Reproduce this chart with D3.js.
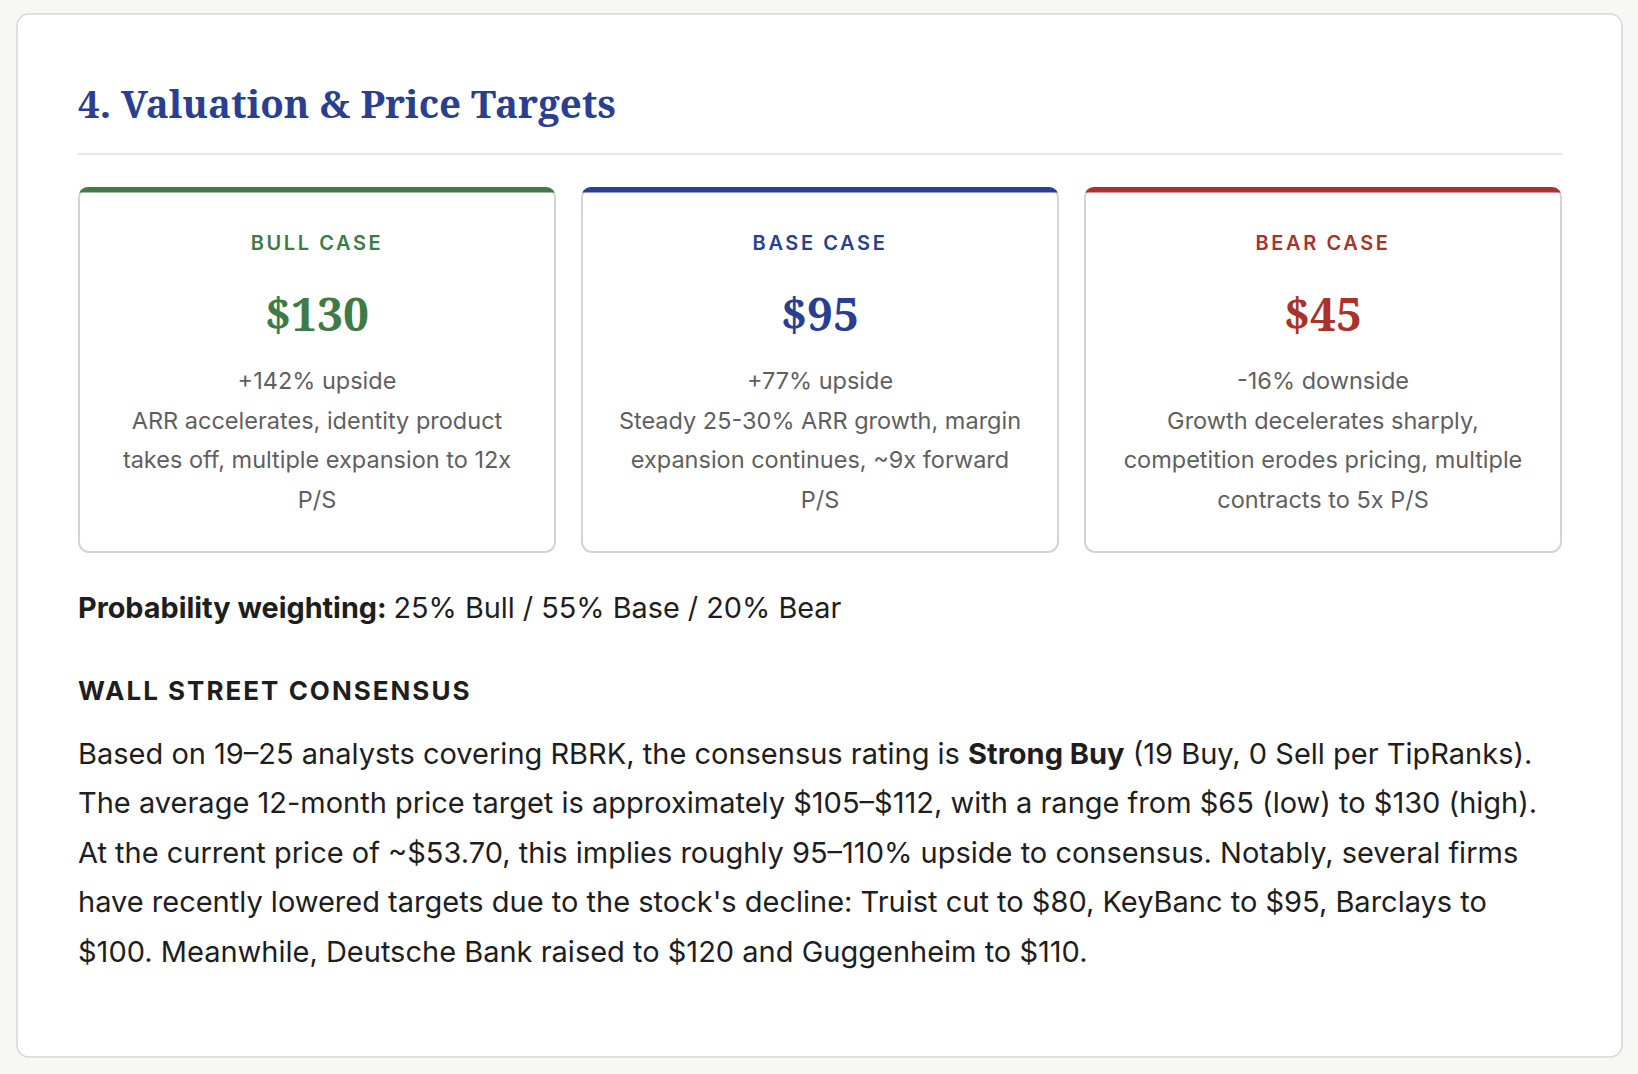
<!DOCTYPE html>
<html>
<head>
<meta charset="utf-8">
<script src="https://cdn.jsdelivr.net/npm/d3@7"></script>
<style>
  html, body { margin: 0; background: #f7f7f5; }
  svg { display: block; }
  .sans { font-family: Inter, "Noto Sans", sans-serif; }
  .serif { font-family: "Noto Serif", "DejaVu Serif", serif; }
</style>
</head>
<body>
<svg id="page" width="1638" height="1074"></svg>
<script>
// Scenario data
const cases = ['BULL CASE', 'BASE CASE', 'BEAR CASE'];
const targets = [130, 95, 45];
const moves = ['+142% upside', '+77% upside', '-16% downside'];
const theses = [
  ['ARR accelerates, identity product', 'takes off, multiple expansion to 12x', 'P/S'],
  ['Steady 25-30% ARR growth, margin', 'expansion continues, ~9x forward', 'P/S'],
  ['Growth decelerates sharply,', 'competition erodes pricing, multiple', 'contracts to 5x P/S']
];
const caseColors = ['#3e7b46', '#2a3f8f', '#a9332a'];

// Probability weighting
const weightNames = ['Bull', 'Base', 'Bear'];
const weights = [25, 55, 20];

// Consensus paragraph, one entry per line; {b:...} marks bold runs
const consensus = [
  ['Based on 19\u201325 analysts covering RBRK, the consensus rating is ', {b: 'Strong Buy'}, ' (19 Buy, 0 Sell per TipRanks).'],
  ['The average 12-month price target is approximately $105\u2013$112, with a range from $65 (low) to $130 (high).'],
  ['At the current price of ~$53.70, this implies roughly 95\u2013110% upside to consensus. Notably, several firms'],
  ["have recently lowered targets due to the stock's decline: Truist cut to $80, KeyBanc to $95, Barclays to"],
  ['$100. Meanwhile, Deutsche Bank raised to $120 and Guggenheim to $110.']
];

const svg = d3.select('#page');
const left = 78, right = 1562;

// outer panel
svg.append('rect')
  .attr('x', 17).attr('y', 14).attr('width', 1605).attr('height', 1043)
  .attr('rx', 12).attr('fill', '#fff').attr('stroke', '#d8d8d6').attr('stroke-width', 1.5);

svg.append('text').attr('class', 'serif')
  .attr('x', left).attr('y', 118)
  .attr('fill', '#2a3f8f').style('font-size', '38.5px').style('font-weight', 700)
  .text('4. Valuation & Price Targets');

svg.append('line')
  .attr('x1', left).attr('x2', right).attr('y1', 154).attr('y2', 154)
  .attr('stroke', '#e6e6e4').attr('stroke-width', 2);

// scenario cards
const x = d3.scaleBand().domain(cases).range([left, right]).paddingInner(25 / 503);
const cardTop = 187, cardH = 366;

const card = svg.append('g').selectAll('g')
  .data(cases).join('g')
  .attr('transform', d => `translate(${x(d)},${cardTop})`);

card.append('rect')
  .attr('x', 1).attr('y', 1).attr('width', x.bandwidth() - 2).attr('height', cardH - 2)
  .attr('rx', 10).attr('fill', '#fff').attr('stroke', '#d4d4d4').attr('stroke-width', 2);

// coloured top edge, clipped to the rounded corners
card.append('clipPath').attr('id', (d, i) => 'clip' + i)
  .append('rect').attr('width', x.bandwidth()).attr('height', cardH).attr('rx', 10);
card.append('rect')
  .attr('clip-path', (d, i) => `url(#clip${i})`)
  .attr('width', x.bandwidth()).attr('height', 5.5)
  .attr('fill', (d, i) => caseColors[i]);

const cx = x.bandwidth() / 2;

card.append('text').attr('class', 'sans')
  .attr('x', cx).attr('y', 63).attr('text-anchor', 'middle')
  .attr('fill', (d, i) => caseColors[i])
  .style('font-size', '20px').style('font-weight', 600).style('letter-spacing', '2.6px')
  .text(d => d);

card.append('text').attr('class', 'serif')
  .attr('x', cx).attr('y', 144).attr('text-anchor', 'middle')
  .attr('fill', (d, i) => caseColors[i])
  .style('font-size', '46px').style('font-weight', 700)
  .text((d, i) => '$' + targets[i]);

card.append('text').attr('class', 'sans')
  .attr('text-anchor', 'middle').attr('fill', '#5f5f5f')
  .style('font-size', '23.5px')
  .selectAll('tspan')
  .data((d, i) => [moves[i]].concat(theses[i]))
  .join('tspan')
  .attr('x', cx).attr('y', (d, j) => 202 + j * 39.5)
  .text(d => d);

// probability line
const prob = svg.append('text').attr('class', 'sans')
  .attr('x', left).attr('y', 617.5).attr('fill', '#1e1e1e').style('font-size', '28.8px');
prob.append('tspan').style('font-weight', 700).text('Probability weighting: ');
prob.append('tspan').text(weights.map((w, i) => `${w}% ${weightNames[i]}`).join(' / '));

svg.append('text').attr('class', 'sans')
  .attr('x', left).attr('y', 700).attr('fill', '#1e1e1e')
  .style('font-size', '26px').style('font-weight', 700).style('letter-spacing', '2px')
  .text('WALL STREET CONSENSUS');

const para = svg.append('g').selectAll('text')
  .data(consensus).join('text').attr('class', 'sans')
  .attr('x', left).attr('y', (d, i) => 763.5 + i * 49.6)
  .attr('fill', '#1e1e1e').style('font-size', '29px');

para.selectAll('tspan')
  .data(d => d).join('tspan')
  .style('font-weight', d => typeof d === 'string' ? 400 : 700)
  .text(d => typeof d === 'string' ? d : d.b);
</script>
</body>
</html>
